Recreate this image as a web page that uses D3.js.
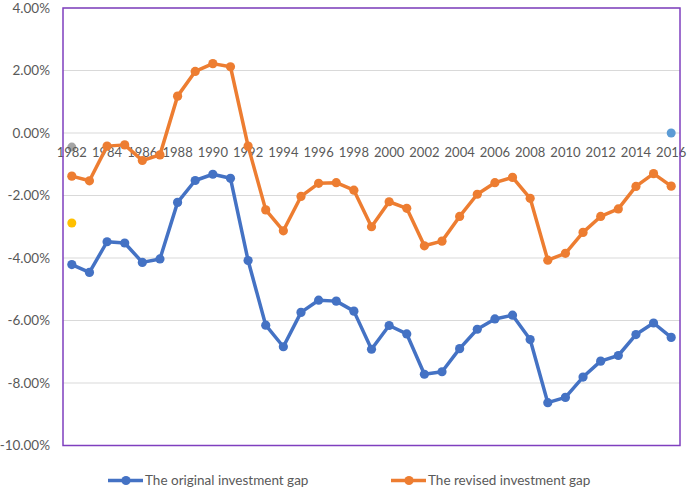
<!DOCTYPE html>
<html>
<head>
<meta charset="utf-8">
<script src="https://cdn.jsdelivr.net/npm/d3@7"></script>
<style>
  body { margin: 0; background: #fff; }
  svg { font-family: Lato, "Open Sans", sans-serif; }
  .tick text { fill: #595959; }
</style>
</head>
<body>
<svg width="688" height="490"></svg>
<script>
// years on the category axis
const years = d3.range(1982, 2017)
const yearLabels = years.filter(y => (y - 1982) % 2 === 0)
const yTicks = [4, 2, 0, -2, -4, -6, -8, -10]

// values in percent
const originalGap = [
    -4.21, -4.46, -3.48, -3.52, -4.14, -4.03, -2.22, -1.52, -1.32, -1.45,
    -4.08, -6.15, -6.84, -5.74, -5.35, -5.38, -5.70, -6.92, -6.16, -6.43,
    -7.72, -7.64, -6.90, -6.28, -5.95, -5.83, -6.61, -8.63, -8.46, -7.81,
    -7.30, -7.12, -6.45, -6.08, -6.54
]
const revisedGap = [
    -1.38, -1.53, -0.42, -0.38, -0.88, -0.70, 1.18, 1.97, 2.22, 2.12,
    -0.42, -2.46, -3.13, -2.03, -1.61, -1.59, -1.83, -3.00, -2.20, -2.41,
    -3.61, -3.46, -2.67, -1.96, -1.59, -1.42, -2.09, -4.07, -3.85, -3.18,
    -2.67, -2.43, -1.71, -1.30, -1.70
]
// stray single points that sit in the chart
const strayYears = [1982, 1982, 2016]
const strayValues = [-0.45, -2.88, 0]
const strayColors = ['#a5a5a5', '#ffc000', '#5b9bd5']

const seriesNames = ['The original investment gap', 'The revised investment gap']
const seriesColors = ['#4472c4', '#ed7d31']

const plot = {left: 63, right: 680, top: 8, bottom: 445.5}
const svg = d3.select('svg')

const x = d3.scaleBand()
    .domain(years)
    .range([plot.left, plot.right])
const cx = d => x(d) + x.bandwidth() / 2

const y = d3.scaleLinear()
    .domain([-10, 4])
    .range([plot.bottom, plot.top])

// grid
svg.append('g')
    .selectAll('line')
    .data(yTicks)
    .join('line')
    .attr('x1', plot.left).attr('x2', plot.right)
    .attr('y1', d => y(d)).attr('y2', d => y(d))
    .attr('stroke', '#d9d9d9')
    .attr('stroke-width', 1.2)

// y axis labels
const yAxis = d3.axisLeft(y)
    .tickValues(yTicks)
    .tickSize(0)
    .tickPadding(13)
    .tickFormat(d => d.toFixed(2) + '%')
svg.append('g')
    .attr('transform', `translate(${plot.left}, 0)`)
    .call(yAxis)
    .call(g => g.select('.domain').remove())
    .selectAll('text')
    .style('font-size', '13.5px')
    .style('font-family', 'Lato, sans-serif')

// stray points go under the year labels
svg.append('g')
    .selectAll('circle')
    .data(strayValues)
    .join('circle')
    .attr('cx', (d, i) => cx(strayYears[i]))
    .attr('cy', d => y(d))
    .attr('r', 4.5)
    .attr('fill', (d, i) => strayColors[i])

// x axis labels sit just below the zero line
const xAxis = d3.axisBottom(x)
    .tickValues(yearLabels)
    .tickSize(0)
    .tickPadding(15)
svg.append('g')
    .attr('transform', `translate(0, ${y(0)})`)
    .call(xAxis)
    .call(g => g.select('.domain').remove())
    .selectAll('text')
    .style('font-size', '13px')
    .style('font-family', 'Lato, sans-serif')

// plot border
svg.append('rect')
    .attr('x', plot.left).attr('y', plot.top)
    .attr('width', plot.right - plot.left)
    .attr('height', plot.bottom - plot.top)
    .attr('fill', 'none')
    .attr('stroke', '#7f3fbf')
    .attr('stroke-width', 1.5)

// series
const line = d3.line()
    .x((d, i) => cx(years[i]))
    .y(d => y(d))

;[originalGap, revisedGap].forEach((vals, k) => {
    const g = svg.append('g')
    g.append('path')
        .attr('d', line(vals))
        .attr('fill', 'none')
        .attr('stroke', seriesColors[k])
        .attr('stroke-width', 3.5)
        .attr('stroke-linejoin', 'round')
    g.selectAll('circle')
        .data(vals)
        .join('circle')
        .attr('cx', (d, i) => cx(years[i]))
        .attr('cy', d => y(d))
        .attr('r', 4.6)
        .attr('fill', seriesColors[k])
})

// legend
const legendX = [108, 391]
const legend = svg.append('g').attr('transform', 'translate(0, 480.5)')
seriesNames.forEach((name, k) => {
    const g = legend.append('g').attr('transform', `translate(${legendX[k]}, 0)`)
    g.append('line')
        .attr('x1', 0).attr('x2', 35)
        .attr('stroke', seriesColors[k])
        .attr('stroke-width', 3.5)
    g.append('circle')
        .attr('cx', 18).attr('r', 4.6)
        .attr('fill', seriesColors[k])
    g.append('text')
        .attr('x', 37)
        .attr('dy', '0.35em')
        .attr('fill', '#595959')
        .style('font-size', '13.5px')
        .text(name)
})
</script>
</body>
</html>
